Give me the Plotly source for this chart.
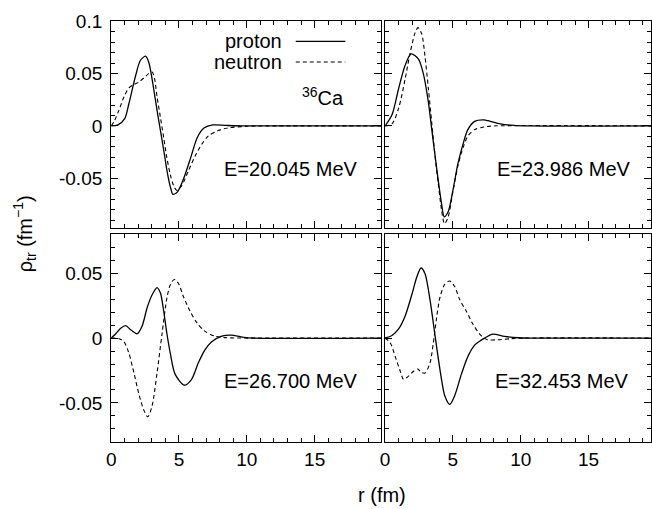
import plotly.graph_objects as go

# ---------------- data ----------------
# Panel 1: E = 20.045 MeV
r_p1 = [0, 0.5, 1.0, 1.3, 1.8, 2.15, 2.53, 2.77, 3.2, 3.43, 3.68, 3.92, 4.16, 4.4, 4.55, 4.89, 5.38, 5.87, 6.35, 6.84, 7.5, 8.5, 10, 19.9]
proton_p1 = [0, 0.001, 0.007, 0.021, 0.048, 0.0626, 0.0667, 0.061, 0.030, 0.011, -0.008, -0.027, -0.046, -0.060, -0.0654, -0.063, -0.049, -0.030, -0.011, -0.002, 0.001, 0.0005, 0, 0]
r_n1 = [0, 0.22, 0.58, 0.95, 1.31, 1.68, 2.04, 2.41, 2.77, 3.02, 3.2, 3.38, 3.62, 3.87, 4.1, 4.35, 4.6, 4.84, 5.2, 5.69, 6.18, 6.67, 7.15, 7.88, 8.6, 10, 11, 19.9]
neutron_p1 = [0, 0.0044, 0.0154, 0.028, 0.0365, 0.0396, 0.042, 0.046, 0.050, 0.0516, 0.045, 0.028, 0.009, -0.011, -0.030, -0.046, -0.057, -0.0616, -0.057, -0.043, -0.029, -0.0176, -0.0097, -0.0044, -0.0019, -0.0003, 0, 0]

# Panel 2: E = 23.986 MeV
r_p2 = [0, 0.51, 1.0, 1.48, 1.92, 2.46, 2.82, 3.19, 3.43, 3.67, 3.92, 4.16, 4.36, 4.65, 5.0, 5.37, 5.74, 6.1, 6.6, 7.3, 7.57, 8.5, 9.5, 10.5, 19.6]
proton_p2 = [0, 0.0107, 0.0358, 0.058, 0.0689, 0.064, 0.050, 0.023, -0.002, -0.027, -0.052, -0.074, -0.0868, -0.082, -0.0616, -0.036, -0.0176, -0.0035, 0.0044, 0.0058, 0.005, 0.002, 0.0005, 0, 0]
r_n2 = [0, 0.51, 1.0, 1.48, 1.85, 2.21, 2.43, 2.7, 2.94, 3.19, 3.43, 3.67, 3.92, 4.16, 4.38, 4.65, 5.0, 5.37, 5.74, 6.1, 6.6, 7.3, 8.0, 19.6]
neutron_p2 = [0, 0.002, 0.017, 0.045, 0.070, 0.089, 0.094, 0.088, 0.067, 0.036, 0.0044, -0.027, -0.055, -0.080, -0.0935, -0.087, -0.063, -0.038, -0.021, -0.0097, -0.0035, -0.001, 0, 0]

# Panel 3: E = 26.700 MeV
r_p3 = [0, 0.34, 0.7, 1.07, 1.44, 1.92, 2.29, 2.65, 3.02, 3.38, 3.63, 3.87, 4.11, 4.36, 4.72, 5.4, 5.93, 6.42, 6.9, 7.39, 8.1, 8.83, 9.8, 10.5, 19.9]
proton_p3 = [0, 0.0033, 0.0075, 0.0095, 0.0063, 0.0033, 0.0095, 0.0233, 0.0333, 0.0388, 0.0346, 0.0208, 0.0033, -0.0118, -0.028, -0.0363, -0.0318, -0.0193, -0.0093, -0.003, 0.0013, 0.0023, 0.0005, 0, 0]
r_n3 = [0, 0.58, 0.95, 1.31, 1.68, 2.04, 2.41, 2.7, 3.02, 3.38, 3.75, 4.11, 4.36, 4.65, 4.96, 5.32, 5.81, 6.3, 6.9, 7.63, 8.36, 9.5, 19.9]
neutron_p3 = [0, -0.0005, -0.003, -0.0118, -0.027, -0.043, -0.0556, -0.0606, -0.052, -0.027, 0.0033, 0.031, 0.041, 0.0451, 0.042, 0.032, 0.0208, 0.012, 0.0053, 0.0015, 0.0003, 0, 0]

# Panel 4: E = 32.453 MeV
r_p4 = [0, 0.51, 1.0, 1.48, 1.97, 2.34, 2.65, 2.94, 3.31, 3.55, 3.8, 4.16, 4.4, 4.77, 5.13, 5.62, 6.1, 6.6, 7.06, 7.4, 7.93, 8.8, 9.8, 10.5, 19.6]
proton_p4 = [0, 0.002, 0.007, 0.017, 0.0333, 0.047, 0.0539, 0.0496, 0.0296, 0.012, -0.0068, -0.0318, -0.0444, -0.0511, -0.0444, -0.028, -0.0143, -0.0055, -0.0018, 0.0003, 0.003, 0.0013, 0.0002, 0, 0]
r_n4 = [0, 0.39, 0.75, 1.12, 1.36, 1.73, 2.1, 2.41, 2.65, 2.94, 3.31, 3.55, 3.8, 4.04, 4.4, 4.77, 5.13, 5.5, 5.98, 6.47, 7.06, 7.55, 8.3, 9.3, 10.5, 19.6]
neutron_p4 = [0, -0.0038, -0.0143, -0.0256, -0.0318, -0.0293, -0.0256, -0.0238, -0.0263, -0.027, -0.0193, -0.0043, 0.0158, 0.031, 0.0414, 0.0439, 0.0396, 0.0296, 0.0208, 0.0108, 0.002, -0.0013, -0.0013, -0.0005, 0, 0]

energies = ["E=20.045 MeV", "E=23.986 MeV", "E=26.700 MeV", "E=32.453 MeV"]
series_labels = ["proton", "neutron"]
nucleus = "<sup>36</sup>Ca"
x_title = "r (fm)"
y_title = "ρ<sub>tr</sub> (fm<sup>−1</sup>)"
x_tickvals = [0, 5, 10, 15]
x_ticktext = ["0", "5", "10", "15"]
y_tickvals_top = [-0.05, 0, 0.05, 0.1]
y_ticktext_top = ["-0.05", "0", "0.05", "0.1"]
y_tickvals_bot = [-0.05, 0, 0.05]
y_ticktext_bot = ["-0.05", "0", "0.05"]

# ---------------- layout helpers ----------------
W, H = 652, 509
FONT = "Liberation Sans, Arial, Helvetica, sans-serif"


def px(x):
    return x / W


def py(y):
    return 1 - y / H


panels = [
    dict(r_p=r_p1, p=proton_p1, r_n=r_n1, n=neutron_p1, xd=[107, 379], yd=[11.6, 222.3], xr=[0, 19.9], yr=[-0.0975, 0.1], top=True, left=True),
    dict(r_p=r_p2, p=proton_p2, r_n=r_n2, n=neutron_p2, xd=[383, 651], yd=[11.6, 222.3], xr=[0, 19.6], yr=[-0.0975, 0.1], top=True, left=False),
    dict(r_p=r_p3, p=proton_p3, r_n=r_n3, n=neutron_p3, xd=[107, 379], yd=[228.6, 440.6], xr=[0, 19.9], yr=[-0.08, 0.08], top=False, left=True),
    dict(r_p=r_p4, p=proton_p4, r_n=r_n4, n=neutron_p4, xd=[383, 651], yd=[228.6, 440.6], xr=[0, 19.6], yr=[-0.08, 0.08], top=False, left=False),
]

fig = go.Figure()
layout = dict(
    width=W, height=H,
    margin=dict(l=0, r=0, t=0, b=0),
    paper_bgcolor="white", plot_bgcolor="white",
    showlegend=False,
    font=dict(family=FONT, size=19, color="black"),
)

for i, pn in enumerate(panels, start=1):
    xa = "x" if i == 1 else f"x{i}"
    ya = "y" if i == 1 else f"y{i}"
    fig.add_trace(go.Scatter(x=pn["r_p"], y=pn["p"], mode="lines", xaxis=xa, yaxis=ya,
                             line=dict(color="black", width=1.3, shape="spline", smoothing=0.8),
                             name=series_labels[0]))
    fig.add_trace(go.Scatter(x=pn["r_n"], y=pn["n"], mode="lines", xaxis=xa, yaxis=ya,
                             line=dict(color="black", width=1.1, dash="4px,3px", shape="spline", smoothing=0.8),
                             name=series_labels[1]))
    common = dict(showline=True, linecolor="black", linewidth=1.2, mirror="allticks",
                  ticks="inside", ticklen=7, tickwidth=1, tickcolor="black",
                  showgrid=False, zeroline=False,
                  tickfont=dict(family=FONT, size=19, color="black"))
    xkey = "xaxis" if i == 1 else f"xaxis{i}"
    ykey = "yaxis" if i == 1 else f"yaxis{i}"
    layout[xkey] = dict(common, domain=[px(pn["xd"][0]), px(pn["xd"][1])], range=pn["xr"],
                        anchor=ya, tickvals=x_tickvals, ticktext=x_ticktext,
                        showticklabels=not pn["top"],
                        minor=dict(ticks="inside", ticklen=4, tickcolor="black", dtick=1, tick0=0, showgrid=False))
    layout[ykey] = dict(common, domain=[py(pn["yd"][1]), py(pn["yd"][0])], range=pn["yr"],
                        anchor=xa,
                        tickvals=y_tickvals_top if pn["top"] else y_tickvals_bot,
                        ticktext=y_ticktext_top if pn["top"] else y_ticktext_bot,
                        showticklabels=pn["left"], ticklabelstandoff=4,
                        minor=dict(ticks="inside", ticklen=4, tickcolor="black", dtick=0.01, tick0=0, showgrid=False))

annotations = []
label_pos = [(358, 162), (633, 162), (358, 378), (631, 378)]
for txt, (ax, ay) in zip(energies, label_pos):
    annotations.append(dict(text=txt, x=px(ax), y=py(ay), xref="paper", yref="paper",
                            xanchor="right", yanchor="middle", showarrow=False,
                            font=dict(family=FONT, size=20, color="black")))
# legend texts
annotations.append(dict(text=series_labels[0], x=px(281), y=py(32), xref="paper", yref="paper",
                        xanchor="right", yanchor="middle", showarrow=False, font=dict(family=FONT, size=20)))
annotations.append(dict(text=series_labels[1], x=px(281), y=py(53), xref="paper", yref="paper",
                        xanchor="right", yanchor="middle", showarrow=False, font=dict(family=FONT, size=20)))
annotations.append(dict(text=nucleus, x=px(344), y=py(88), xref="paper", yref="paper",
                        xanchor="right", yanchor="middle", showarrow=False, font=dict(family=FONT, size=20)))
# axis titles
annotations.append(dict(text=x_title, x=px(380), y=py(495), xref="paper", yref="paper",
                        xanchor="center", yanchor="middle", showarrow=False, font=dict(family=FONT, size=20)))
annotations.append(dict(text=y_title, x=px(20), y=py(228), xref="paper", yref="paper", textangle=-90,
                        xanchor="center", yanchor="middle", showarrow=False, font=dict(family=FONT, size=20)))
layout["annotations"] = annotations

layout["shapes"] = [
    dict(type="line", xref="paper", yref="paper", x0=px(293), x1=px(343), y0=py(32), y1=py(32),
         line=dict(color="black", width=1.3)),
    dict(type="line", xref="paper", yref="paper", x0=px(293), x1=px(343), y0=py(53), y1=py(53),
         line=dict(color="black", width=1.1, dash="4px,3px")),
]

fig.update_layout(**layout)
fig.write_html("out.html")
